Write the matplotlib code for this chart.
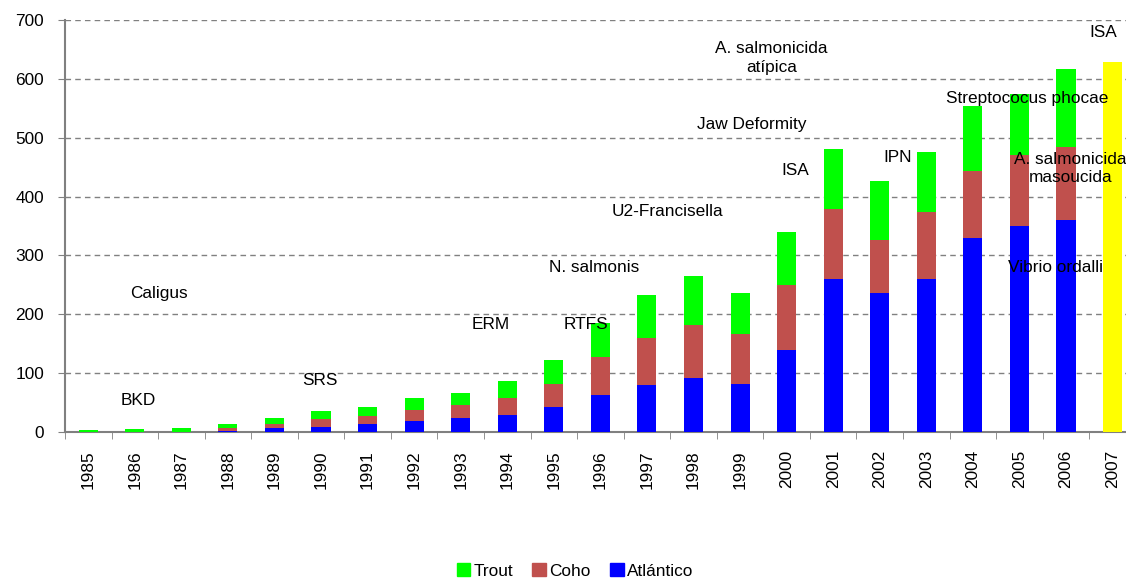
import numpy as np
import matplotlib.pyplot as plt
from matplotlib.patches import Patch

years = [str(y) for y in range(1985, 2008)]

# valeurs (cumul par espece)
atlantico = [0, 0, 0, 1, 6, 9, 14, 19, 23, 29, 43, 63, 79, 92, 82, 140, 260, 236, 260, 330, 350, 360, 0]
coho = [0, 0, 0, 6, 8, 13, 14, 19, 22, 29, 39, 64, 80, 90, 85, 110, 119, 90, 114, 114, 120, 124, 0]
trout = [4, 5, 6, 7, 10, 14, 14, 19, 21, 29, 41, 59, 74, 83, 70, 90, 101, 100, 101, 110, 104, 133, 0]
total_2007 = 629

annotations = [
    ("Caligus", 1.52, 236),
    ("BKD", 1.07, 54),
    ("SRS", 4.97, 87),
    ("ERM", 8.64, 183),
    ("RTFS", 10.7, 183),
    ("N. salmonis", 10.87, 279),
    ("U2-Francisella", 12.44, 374),
    ("ISA", 15.19, 445),
    ("Jaw Deformity", 14.24, 522),
    ("A. salmonicida\natípica", 14.67, 635),
    ("IPN", 17.38, 467),
    ("Streptococus phocae", 20.17, 567),
    ("A. salmonicida\nmasoucida", 21.09, 448),
    ("Vibrio ordalli", 20.77, 279),
    ("ISA", 21.8, 678),
]

plt.rcParams['font.family'] = ['Liberation Sans', 'DejaVu Sans']
plt.rcParams['font.size'] = 12.4

fig = plt.figure(figsize=(11.26, 5.8), dpi=100)
ax = fig.add_axes([0.0577, 0.2552, 0.951, 0.7103])

x = np.arange(len(years))
w = 0.41
a = np.array(atlantico)
c = np.array(coho)
t = np.array(trout)

ax.bar(x, a, w, color='#0000FF', label='Atlántico', zorder=3)
ax.bar(x, c, w, bottom=a, color='#C0504D', label='Coho', zorder=3)
ax.bar(x, t, w, bottom=a + c, color='#00FF00', label='Trout', zorder=3)
ax.bar(x[-1], total_2007, w, color='#FFFF00', zorder=3)

for txt, xi, yi in annotations:
    ax.text(xi, yi, txt, ha='center', va='center', zorder=4, linespacing=1.3)

ax.set_xlim(-0.5, len(years) - 0.5)
ax.set_ylim(0, 700)
ax.set_yticks(range(0, 701, 100))
ax.set_xticks(x)
ax.set_xticklabels(years, rotation=90, va='top')
ax.set_xticks(np.arange(-0.5, len(years), 1), minor=True)
ax.tick_params(axis='x', which='major', length=0, pad=13)
ax.tick_params(axis='x', which='minor', length=5, color='#808080', direction='out')
ax.tick_params(axis='y', length=5, color='#808080', pad=10)

ax.yaxis.grid(True, linestyle=(0, (4, 3)), color='#808080', linewidth=1)
ax.set_axisbelow(True)
for s in ['top', 'right']:
    ax.spines[s].set_visible(False)
for s in ['left', 'bottom']:
    ax.spines[s].set_color('#808080')
    ax.spines[s].set_linewidth(1.5)

handles = [Patch(color='#00FF00', label='Trout'),
           Patch(color='#C0504D', label='Coho'),
           Patch(color='#0000FF', label='Atlántico')]
fig.legend(handles=handles, loc='center', bbox_to_anchor=(575 / 1126, 1 - 571 / 580),
           ncol=3, frameon=False, handlelength=0.8, handleheight=0.8,
           handletextpad=0.2, columnspacing=1.1)

fig.savefig('out.png', dpi=100)
